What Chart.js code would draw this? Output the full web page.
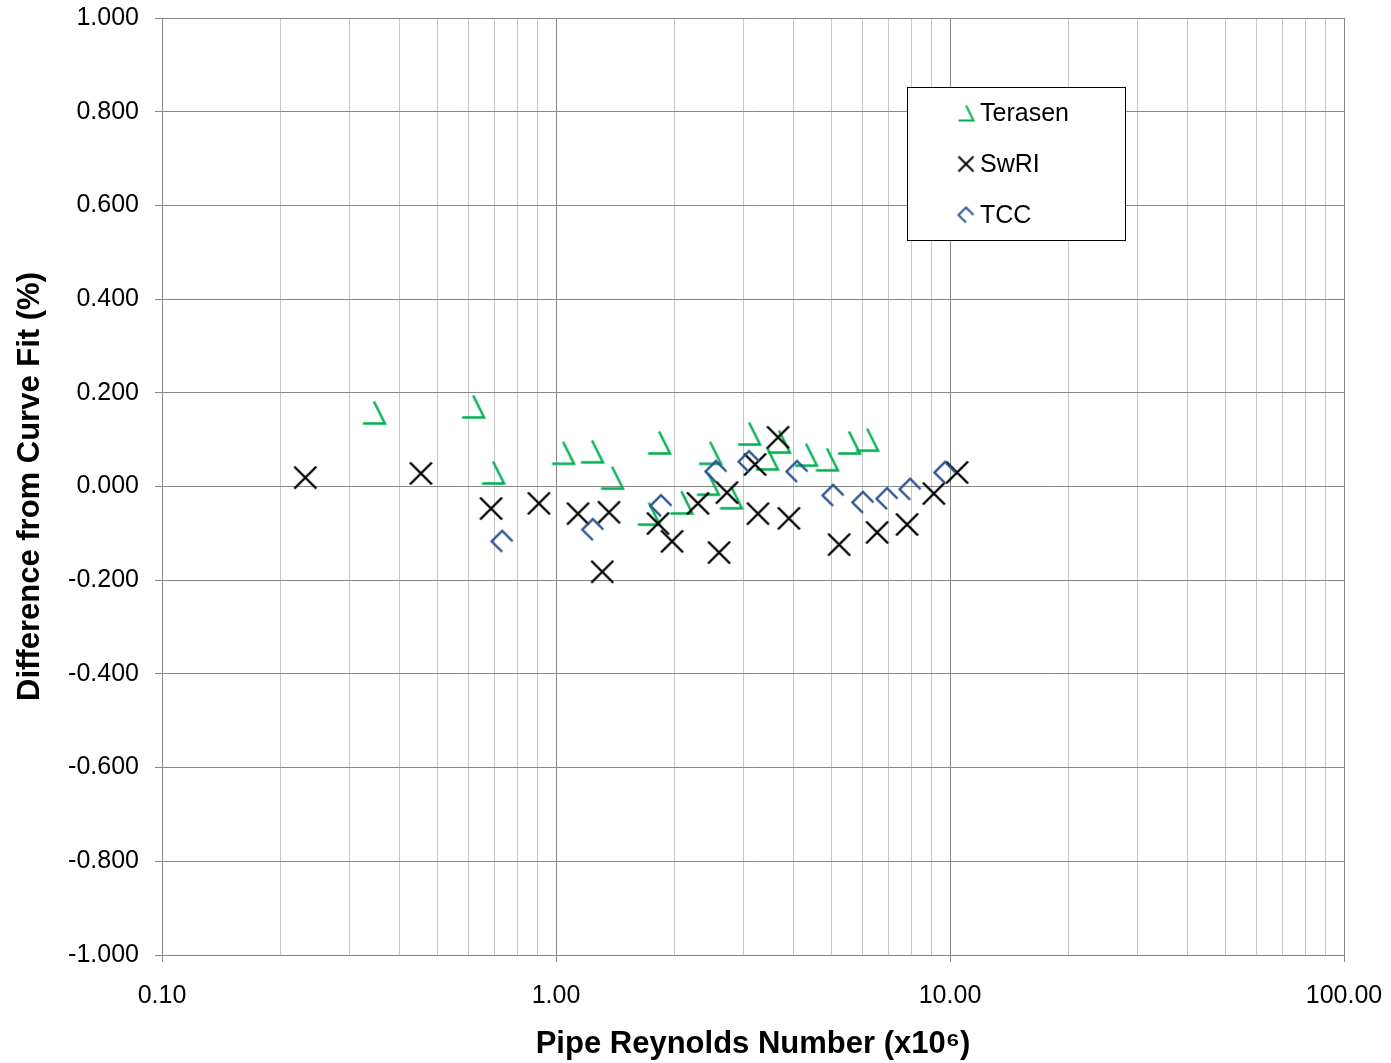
<!DOCTYPE html>
<html>
<head>
<meta charset="utf-8">
<title>Difference from Curve Fit vs Pipe Reynolds Number</title>
<script src="https://cdn.jsdelivr.net/npm/chart.js@4.4.1/dist/chart.umd.min.js"></script>
<style>
  html, body { margin: 0; padding: 0; background: #ffffff; }
  #wrap { width: 1391px; height: 1063px; position: relative; }
</style>
</head>
<body>
<div id="wrap"><canvas id="chart"></canvas></div>
<script>
// ---- data: pipe Reynolds number (x10^6) and difference from curve fit (%) ----
const seriesNames = ['Terasen', 'SwRI', 'TCC'];

const terasenRe   = [0.345, 0.616, 0.692, 1.042, 1.234, 1.387, 1.826, 1.72, 2.08, 2.46, 2.43, 2.78, 3.09, 3.43, 3.68, 4.31, 4.87, 5.54, 6.16];
const terasenDiff = [0.158, 0.171, 0.030, 0.072, 0.075, 0.019, 0.094, -0.058, -0.034, 0.072, 0.006, -0.023, 0.113, 0.060, 0.096, 0.068, 0.058, 0.094, 0.100];

const swriRe   = [0.231, 0.454, 0.684, 0.905, 1.137, 1.363, 1.31, 1.815, 1.97, 2.293, 2.593, 2.716, 3.20, 3.66, 3.256, 3.90, 5.23, 6.53, 7.78, 9.10, 10.42];
const swriDiff = [0.019, 0.028, -0.047, -0.036, -0.058, -0.055, -0.182, -0.079, -0.117, -0.036, -0.141, -0.013, 0.047, 0.105, -0.058, -0.068, -0.124, -0.098, -0.081, -0.015, 0.030];

const tccRe   = [0.73, 1.24, 1.847, 2.547, 3.09, 4.09, 5.05, 6.01, 6.92, 7.92, 9.71];
const tccDiff = [-0.117, -0.092, -0.041, 0.032, 0.053, 0.032, -0.019, -0.034, -0.026, -0.006, 0.030];

// axis ticks
const xDecades = [0.1, 1, 10, 100];
const xTickLabels = ['0.10', '1.00', '10.00', '100.00'];
const yMin = -1, yMax = 1, yStep = 0.2;

// ---- styles ----
const FONT = '"Liberation Sans", Arial, Helvetica, sans-serif';
const GREEN = '#00b050';
const BLUE = '#2a5491';
const BLACK = '#000000';
const GRID_MAJOR = '#878787';
const GRID_MINOR = '#c6c6c6';

function toPoints(xs, ys) {
  return xs.map((x, i) => ({ x: x, y: ys[i] }));
}

// marker images: open triangle, cross and open diamond outlines
function makeMarker(kind, half, color, width) {
  const size = Math.ceil(half * 2 + width * 2 + 2);
  const cv = document.createElement('canvas');
  cv.width = size; cv.height = size;
  const g = cv.getContext('2d');
  const c = size / 2;
  g.strokeStyle = color;
  g.lineWidth = width;
  g.lineCap = 'butt';
  g.lineJoin = 'miter';
  g.beginPath();
  if (kind === 'tri') {
    g.moveTo(c, c - half);
    g.lineTo(c + half, c + half);
    g.lineTo(c - half, c + half);
  } else if (kind === 'cross') {
    g.moveTo(c - half, c - half); g.lineTo(c + half, c + half);
    g.moveTo(c + half, c - half); g.lineTo(c - half, c + half);
  } else {
    g.moveTo(c + half, c);
    g.lineTo(c, c - half);
    g.lineTo(c - half, c);
    g.lineTo(c, c + half);
  }
  g.stroke();
  return cv;
}

const markerKinds = ['tri', 'cross', 'diamond'];
const markerColors = [GREEN, BLACK, BLUE];
const plotMarkers = markerKinds.map((k, i) => makeMarker(k, k === 'diamond' ? 10.5 : 11, markerColors[i], 2.4));
const legendMarkers = markerKinds.map((k, i) => makeMarker(k, 7.5, markerColors[i], 2));

function isDecade(v) {
  return xDecades.some(d => Math.abs(v - d) < d * 1e-6);
}

// legend box drawn inside the plot area
const legendBox = {
  id: 'legendBox',
  afterDatasetsDraw(chart) {
    const { ctx, chartArea } = chart;
    const x0 = chartArea.left + 745;
    const y0 = chartArea.top + 69;
    const w = 218, h = 153;
    ctx.save();
    ctx.fillStyle = '#ffffff';
    ctx.fillRect(x0, y0, w, h);
    ctx.strokeStyle = '#000000';
    ctx.lineWidth = 1;
    ctx.strokeRect(x0 + 0.5, y0 + 0.5, w, h);
    ctx.font = '25px ' + FONT;
    ctx.textBaseline = 'middle';
    ctx.textAlign = 'left';
    ctx.fillStyle = '#000000';
    chart.data.datasets.forEach((ds, i) => {
      const cy = y0 + 26 + i * 51;
      const img = legendMarkers[i];
      ctx.drawImage(img, x0 + 59 - img.width / 2, cy - img.height / 2);
      ctx.fillText(ds.label, x0 + 73, cy + 1);
    });
    ctx.restore();
  }
};

const datasets = [
  { label: seriesNames[0], data: toPoints(terasenRe, terasenDiff), pointStyle: plotMarkers[0], order: 2 },
  { label: seriesNames[1], data: toPoints(swriRe, swriDiff), pointStyle: plotMarkers[1], order: 1 },
  { label: seriesNames[2], data: toPoints(tccRe, tccDiff), pointStyle: plotMarkers[2], order: 0 }
].map(d => Object.assign(d, { pointRadius: 11, pointHoverRadius: 11, showLine: false }));

new Chart(document.getElementById('chart'), {
  type: 'scatter',
  data: { datasets: datasets },
  plugins: [legendBox],
  options: {
    responsive: true,
    maintainAspectRatio: false,
    animation: false,
    layout: { padding: { top: 18, right: 47, left: 0, bottom: 0 } },
    plugins: {
      legend: { display: false },
      tooltip: { enabled: false }
    },
    scales: {
      x: {
        type: 'logarithmic',
        min: xDecades[0],
        max: xDecades[xDecades.length - 1],
        afterBuildTicks(scale) {
          const ticks = [];
          for (let i = 0; i < xDecades.length - 1; i++) {
            for (let k = 1; k <= 9; k++) ticks.push({ value: k * xDecades[i] });
          }
          ticks.push({ value: xDecades[xDecades.length - 1] });
          scale.ticks = ticks;
        },
        afterFit(scale) {
          scale.height = 108;
          // the end labels fit inside the outer padding already
          scale.paddingLeft = 0;
          scale.paddingRight = 0;
        },
        border: { display: true, color: GRID_MAJOR, width: 1 },
        grid: {
          drawTicks: true,
          tickLength: 7,
          color: ctx => (ctx.tick && isDecade(ctx.tick.value)) ? GRID_MAJOR : GRID_MINOR,
          tickColor: ctx => (ctx.tick && isDecade(ctx.tick.value)) ? GRID_MAJOR : 'rgba(0,0,0,0)',
          lineWidth: 1
        },
        ticks: {
          autoSkip: false,
          maxRotation: 0,
          minRotation: 0,
          padding: 19,
          color: '#000000',
          font: { family: FONT, size: 25 },
          callback(value) {
            const i = xDecades.findIndex(d => Math.abs(value - d) < d * 1e-6);
            return i >= 0 ? xTickLabels[i] : '';
          }
        },
        title: {
          display: true,
          text: 'Pipe Reynolds Number (x10\u2076)',
          color: '#000000',
          font: { family: FONT, size: 31, weight: 'bold' },
          padding: { top: 0, bottom: 0 }
        }
      },
      y: {
        type: 'linear',
        min: yMin,
        max: yMax,
        afterFit(scale) {
          scale.width = 162;
          scale.paddingTop = 0;
          scale.paddingBottom = 0;
        },
        border: { display: true, color: GRID_MAJOR, width: 1 },
        grid: {
          drawTicks: true,
          tickLength: 7,
          color: GRID_MAJOR,
          tickColor: GRID_MAJOR,
          lineWidth: 1
        },
        ticks: {
          stepSize: yStep,
          padding: 16,
          color: '#000000',
          font: { family: FONT, size: 25 },
          callback(value) {
            const v = Math.abs(value) < 1e-9 ? 0 : value;
            return v.toFixed(3);
          }
        },
        title: {
          display: true,
          text: 'Difference from Curve Fit (%)',
          color: '#000000',
          font: { family: FONT, size: 31, weight: 'bold' },
          padding: { top: 12, bottom: 0 }
        }
      }
    }
  }
});
</script>
</body>
</html>
